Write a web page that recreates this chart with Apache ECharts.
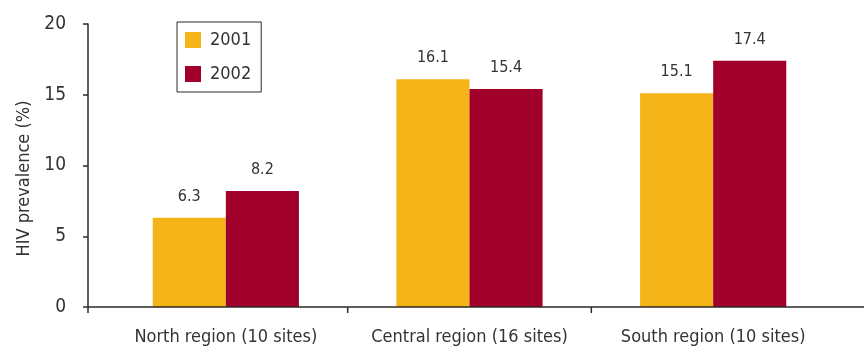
<!DOCTYPE html>
<html>
<head>
<meta charset="utf-8">
<script src="https://cdn.jsdelivr.net/npm/echarts@6/dist/echarts.min.js"></script>
<style>
  html, body { margin: 0; padding: 0; background: #fff; }
  #chart { width: 864px; height: 349px; }
</style>
</head>
<body>
<div id="chart"></div>
<script>
// Regional HIV prevalence, 2001 vs 2002
const categories = ['North region (10 sites)', 'Central region (16 sites)', 'South region (10 sites)'];
const years = ['2001', '2002'];
const values2001 = [6.3, 16.1, 15.1];
const values2002 = [8.2, 15.4, 17.4];
const yMin = 0, yMax = 20, yStep = 5;

const FONT = '"DejaVu Sans Condensed", "DejaVu Sans", sans-serif';
const INK = '#2e2828';
const TEXT = '#333';
const COLORS = ['#F5B519', '#A0002A'];

const chart = echarts.init(document.getElementById('chart'), null, { renderer: 'canvas' });

const barLabel = { show: true, position: 'top', distance: 13, fontFamily: FONT, fontSize: 16, color: TEXT };

const option = {
  animation: false,
  textStyle: { fontFamily: FONT },
  color: COLORS,
  grid: { left: 104, width: 731, top: 24, height: 283 },
  legend: {
    data: years,
    orient: 'vertical',
    left: 177,
    top: 22,
    padding: [9, 10, 9, 8],
    itemWidth: 16,
    itemHeight: 16,
    itemGap: 16,
    icon: 'rect',
    borderColor: INK,
    borderWidth: 1,
    textStyle: { fontFamily: FONT, fontSize: 18, color: TEXT, padding: [0, 0, 0, 4] }
  },
  xAxis: {
    type: 'category',
    data: categories,
    axisLine: { show: false },
    axisTick: { show: false },
    axisLabel: { interval: 0, hideOverlap: false, fontFamily: FONT, fontSize: 18, color: TEXT, margin: 21 }
  },
  yAxis: {
    type: 'value',
    min: yMin,
    max: yMax,
    interval: yStep,
    offset: 16,
    name: 'HIV prevalence (%)',
    nameLocation: 'middle',
    nameRotate: 90,
    nameGap: 52,
    nameTextStyle: { fontFamily: FONT, fontSize: 18, color: TEXT, padding: [0, 26, 0, 0] },
    splitLine: { show: false },
    axisLine: { show: true, lineStyle: { color: INK, width: 1.5 } },
    axisTick: { show: true, length: 5, lineStyle: { color: INK, width: 1.5 } },
    axisLabel: { fontFamily: FONT, fontSize: 19, color: TEXT, margin: 22 }
  },
  series: [
    {
      name: years[0],
      type: 'bar',
      data: values2001,
      barGap: '0%',
      barCategoryGap: '40%',
      label: barLabel
    },
    {
      name: years[1],
      type: 'bar',
      data: values2002,
      label: barLabel
    }
  ]
};
chart.setOption(option);

// Baseline axis: runs from the value axis to the right edge, with ticks
// at the value axis and between neighbouring categories.
const y0 = chart.convertToPixel({ yAxisIndex: 0 }, yMin);
const axisX = option.grid.left - option.yAxis.offset;
const centers = categories.map((c, i) => chart.convertToPixel({ xAxisIndex: 0 }, i));
const tickXs = [axisX];
for (let i = 0; i < centers.length - 1; i++) tickXs.push((centers[i] + centers[i + 1]) / 2);

const lineStyle = { stroke: INK, lineWidth: 1.5 };
const graphics = [{
  type: 'line', silent: true, z: 10,
  shape: { x1: axisX, y1: y0, x2: chart.getWidth(), y2: y0 },
  style: lineStyle
}];
tickXs.forEach(x => graphics.push({
  type: 'line', silent: true, z: 10,
  shape: { x1: x, y1: y0, x2: x, y2: y0 + 6 },
  style: lineStyle
}));
chart.setOption({ graphic: graphics });
</script>
</body>
</html>
